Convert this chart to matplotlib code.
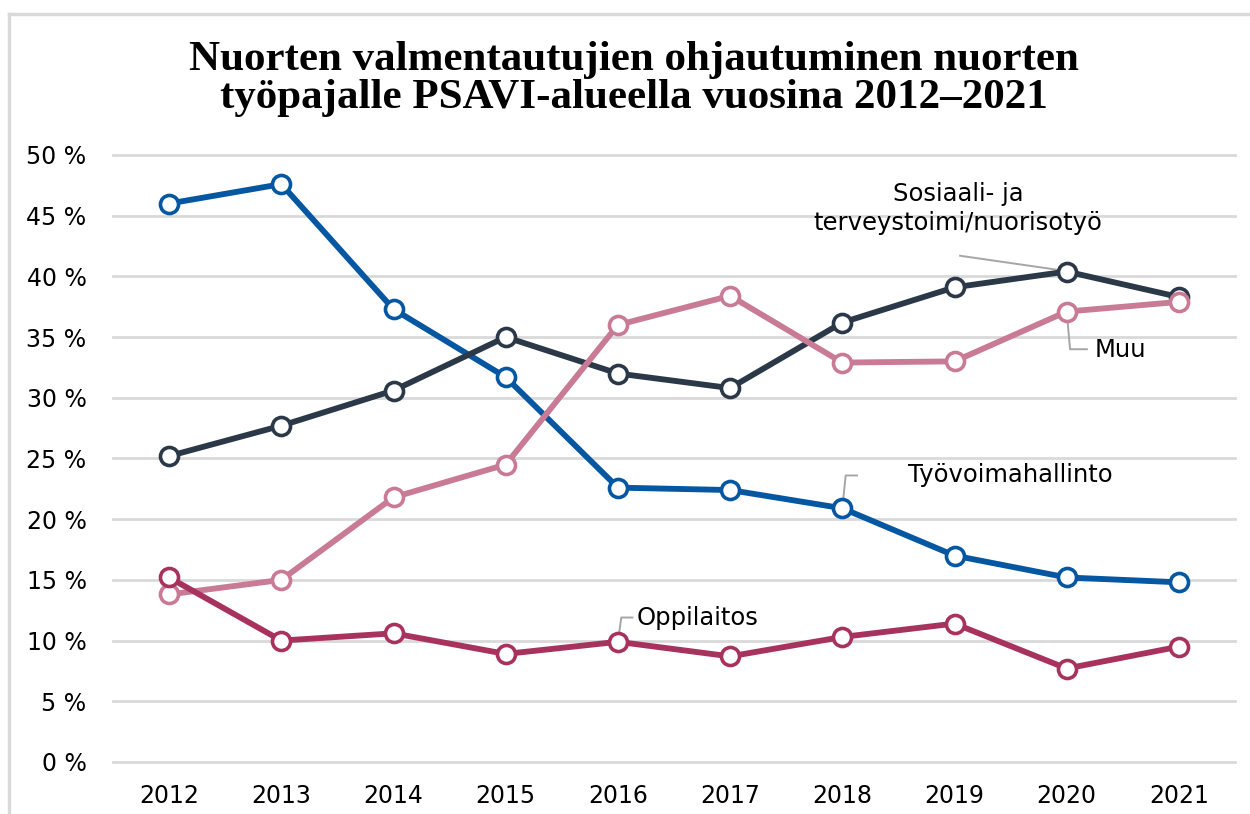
import matplotlib.pyplot as plt
from matplotlib.ticker import FuncFormatter
from matplotlib.lines import Line2D

years = [2012, 2013, 2014, 2015, 2016, 2017, 2018, 2019, 2020, 2021]

tyovoima = [46.0, 47.6, 37.3, 31.7, 22.6, 22.4, 20.9, 17.0, 15.2, 14.8]
sosiaali = [25.2, 27.7, 30.6, 35.0, 32.0, 30.8, 36.2, 39.1, 40.4, 38.3]
muu = [13.8, 15.0, 21.8, 24.5, 36.0, 38.4, 32.9, 33.0, 37.1, 37.9]
oppilaitos = [15.2, 10.0, 10.6, 8.9, 9.9, 8.7, 10.3, 11.4, 7.7, 9.5]

title = "Nuorten valmentautujien ohjautuminen nuorten\ntyöpajalle PSAVI-alueella vuosina 2012\u20132021"

fig = plt.figure(figsize=(12.5, 8.14), dpi=100)
ax = fig.add_axes([0.0904, 0.0639, 0.8976, 0.7457])

# frame lines at top and left of the picture
fig.add_artist(Line2D([0.0068, 0.0068], [0, 0.983], color="#d9d9d9", lw=2.5, transform=fig.transFigure))
fig.add_artist(Line2D([0.0068, 1], [0.983, 0.983], color="#d9d9d9", lw=2.5, transform=fig.transFigure))

series = [
    (tyovoima, "#0457a0"),
    (sosiaali, "#2b3848"),
    (muu, "#c97b96"),
    (oppilaitos, "#a8325e"),
]
for vals, col in series:
    ax.plot(years, vals, color=col, lw=4.2, marker="o", ms=13, mfc="white",
            mec=col, mew=2.6, solid_capstyle="round", zorder=3)

ax.set_xlim(2011.5, 2021.5)
ax.set_ylim(0, 50)
ax.set_xticks(years)
ax.set_yticks(range(0, 51, 5))
ax.yaxis.set_major_formatter(FuncFormatter(lambda v, p: f"{int(v)} %"))
ax.grid(axis="y", color="#d9d9d9", lw=2)
for gl in ax.get_ygridlines():
    gl.set_clip_on(False)
ax.set_axisbelow(True)
for s in ax.spines.values():
    s.set_visible(False)
ax.tick_params(length=0, labelsize=17, colors="black")
ax.tick_params(axis="x", pad=16)
ax.tick_params(axis="y", pad=19)

fig.text(0.507, 0.903, title, ha="center", va="center", fontsize=31,
         family="Liberation Serif", weight="bold", linespacing=1.0)

lc = "#a6a6a6"
fs = 17.5
# Sosiaali- ja terveystoimi/nuorisotyö
ax.text(2019.03, 45.6, "Sosiaali- ja\nterveystoimi/nuorisotyö", ha="center", va="center",
        fontsize=fs, linespacing=1.25)
ax.plot([2019.05, 2019.95], [41.7, 40.5], color=lc, lw=1.4, zorder=2)

# Muu
ax.plot([2020, 2020.03, 2020.18], [37.1, 34.0, 34.0], color=lc, lw=1.4, zorder=2)
ax.text(2020.25, 33.9, "Muu", fontsize=fs, va="center", ha="left")

# Työvoimahallinto
ax.plot([2018, 2018.03, 2018.13], [20.9, 23.6, 23.6], color=lc, lw=1.4, zorder=2)
ax.text(2018.59, 23.6, "Työvoimahallinto", fontsize=fs, va="center", ha="left")

# Oppilaitos
ax.plot([2016, 2016.03, 2016.13], [9.9, 11.9, 11.9], color=lc, lw=1.4, zorder=2)
ax.text(2016.17, 11.9, "Oppilaitos", fontsize=fs, va="center", ha="left")

fig.savefig("out.png", dpi=100, facecolor="white")
